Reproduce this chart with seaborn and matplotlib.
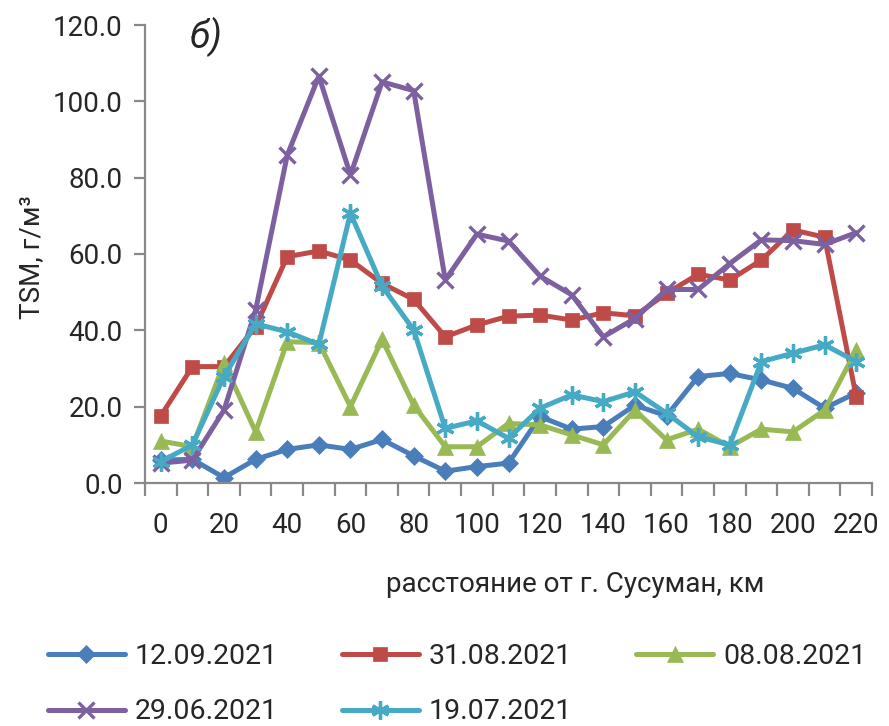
import numpy as np
import pandas as pd
import matplotlib
matplotlib.use("Agg")
import matplotlib.pyplot as plt
from matplotlib.ticker import FixedLocator, NullFormatter
import seaborn as sns

# distance from Susuman, km
distance = [0, 10, 20, 30, 40, 50, 60, 70, 80, 90, 100, 110,
            120, 130, 140, 150, 160, 170, 180, 190, 200, 210, 220]

# TSM, g/m3 per survey date
tsm_1209 = [6.0, 6.2, 1.4, 6.2, 8.8, 10.0, 8.8, 11.4, 7.1, 3.1, 4.3, 5.2,
            17.4, 14.1, 14.8, 20.4, 17.6, 27.9, 28.7, 27.0, 24.8, 19.6, 23.6]
tsm_3108 = [17.6, 30.5, 30.5, 41.0, 59.3, 60.8, 58.4, 52.3, 48.1, 38.3, 41.4, 43.7,
            44.0, 42.7, 44.6, 43.8, 49.7, 54.7, 53.2, 58.4, 66.3, 64.4, 22.6]
tsm_0808 = [11.0, 9.5, 31.4, 13.4, 37.0, 36.8, 20.0, 37.6, 20.4, 9.5, 9.5, 15.6,
            15.2, 12.6, 10.0, 19.1, 11.3, 14.1, 9.5, 14.1, 13.4, 19.1, 34.8]
tsm_2906 = [5.2, 6.0, 19.1, 45.3, 85.9, 106.6, 80.7, 105.1, 102.8, 53.2, 65.2, 63.4,
            54.2, 49.3, 38.3, 43.1, 50.7, 50.7, 57.5, 63.7, 63.5, 62.5, 65.6]
tsm_1907 = [5.6, 10.0, 27.9, 41.7, 39.6, 36.3, 70.7, 51.6, 40.1, 14.3, 16.3, 11.7,
            19.6, 23.1, 21.3, 23.9, 18.3, 12.1, 10.0, 31.8, 34.0, 36.2, 31.8]

dates = ["12.09.2021", "31.08.2021", "08.08.2021", "29.06.2021", "19.07.2021"]
series = [tsm_1209, tsm_3108, tsm_0808, tsm_2906, tsm_1907]
colors = ["#4A7EBB", "#BE4B48", "#98B954", "#7D60A0", "#46AAC5"]
asterisk = (6, 2, 0)
marker_list = ["D", "s", "^", "x", asterisk]
size_list = [9.5, 10, 11, 11, 13]

sns.set_style("white")
plt.rcParams["font.family"] = ["Roboto", "DejaVu Sans"]

fig = plt.figure(figsize=(8.89, 7.26), dpi=100)
ax = fig.add_axes([145 / 889, 1 - 483 / 726, 727 / 889, 458 / 726])

for d, vals, c, m, ms in zip(dates, series, colors, marker_list, size_list):
    sns.lineplot(x=distance, y=vals, color=c, marker=m, markersize=ms,
                 markeredgecolor=c,
                 markeredgewidth=2.4 if m in ("x", asterisk) else 0.5,
                 linewidth=3.6, label=d, ax=ax)

ax.set_xlim(-5, 225)
ax.set_ylim(0, 120)

grey = "#898989"
for s in ["top", "right"]:
    ax.spines[s].set_visible(False)
for s in ["left", "bottom"]:
    ax.spines[s].set_color(grey)
    ax.spines[s].set_linewidth(1.6)

ax.set_yticks(np.arange(0, 121, 20))
ax.set_yticklabels([f"{v:.1f}" for v in np.arange(0, 121, 20)])
ax.set_xticks(np.arange(0, 221, 20))
ax.set_xticklabels([str(v) for v in range(0, 221, 20)])
ax.xaxis.set_minor_locator(FixedLocator(np.arange(-5, 226, 10)))
ax.xaxis.set_minor_formatter(NullFormatter())
ax.tick_params(axis="x", which="major", length=0, pad=21, labelsize=20)
ax.tick_params(axis="x", which="minor", length=9, width=1.6, color=grey,
               direction="out", bottom=True)
ax.tick_params(axis="y", which="major", length=8, width=1.6, color=grey,
               direction="out", pad=8, labelsize=20, left=True)

ax.set_xlabel("расстояние от г. Сусуман, км", fontsize=20)
ax.xaxis.set_label_coords((575 - 145) / 727, -(571 - 483) / 458)
ax.set_ylabel("TSM, г/м³", fontsize=20)
ax.yaxis.set_label_coords(-(145 - 45) / 727, (483 - 257) / 458)

ax.text((190 - 145) / 727, (483 - 48) / 458, "б)", transform=ax.transAxes,
        fontsize=27, fontstyle="italic", va="baseline", ha="left")

handles, labels = ax.get_legend_handles_labels()
ax.get_legend().remove()
order = [0, 3, 1, 4, 2]
fig.legend([handles[i] for i in order], [labels[i] for i in order],
           ncol=3, loc="upper left", bbox_to_anchor=(48 / 889, 1 - 643 / 726),
           frameon=False, borderpad=0, borderaxespad=0,
           prop={"size": 20.5},
           handlelength=2.7, handletextpad=0.35, columnspacing=2.25,
           labelspacing=1.0)

fig.savefig("out.png", dpi=100)
